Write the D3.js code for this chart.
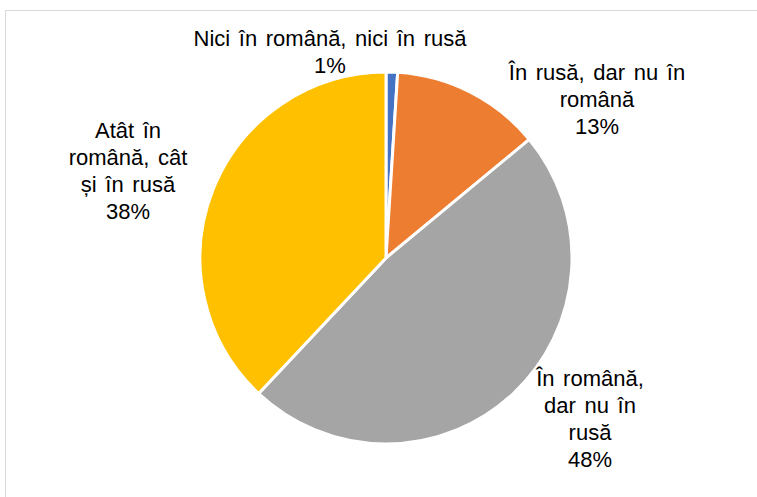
<!DOCTYPE html>
<html>
<head>
    <script src="https://d3js.org/d3.v7.min.js"></script>
    <style>
        body { margin: 0; background: #fff; }
        svg { display: block; }
    </style>
</head>
<body>
    <svg width="757" height="497" id="chart"></svg>
    <script>
        // Data
        const categories = [
            "Nici în română, nici în rusă",
            "În rusă, dar nu în română",
            "În română, dar nu în rusă",
            "Atât în română, cât și în rusă"
        ];
        const values = [1, 13, 48, 38];
        const colors = ["#4472C4", "#ED7D31", "#A5A5A5", "#FFC000"];
        // label lines as wrapped in the chart
        const labelLines = [
            ["Nici în română, nici în rusă", "1%"],
            ["În rusă, dar nu în", "română", "13%"],
            ["În română,", "dar nu în", "rusă", "48%"],
            ["Atât în", "română, cât", "și în rusă", "38%"]
        ];
        const labelPos = [[330, 38], [597, 72], [590, 378], [128, 130]];

        const svg = d3.select("#chart");

        // chart frame
        svg.append("rect")
            .attr("x", 5.5).attr("y", 10.5)
            .attr("width", 800).attr("height", 600)
            .attr("fill", "none")
            .attr("stroke", "#d9d9d9")
            .attr("stroke-width", 1);

        const cx = 386, cy = 258, radius = 186;

        const pie = d3.pie().sort(null).value(d => d);
        const arc = d3.arc().innerRadius(0).outerRadius(radius);

        const g = svg.append("g").attr("transform", `translate(${cx},${cy})`);
        g.selectAll("path")
            .data(pie(values))
            .enter().append("path")
            .attr("d", arc)
            .attr("fill", (d, i) => colors[i])
            .attr("stroke", "#fff")
            .attr("stroke-width", 3)
            .attr("stroke-linejoin", "round");

        // labels
        const lineH = 27;
        const labels = svg.append("g")
            .attr("font-family", "Liberation Sans, Arial, sans-serif")
            .attr("font-size", "22px")
            .attr("word-spacing", "2.5px")
            .attr("fill", "#000")
            .attr("text-anchor", "middle");
        labelLines.forEach((lines, i) => {
            const t = labels.append("text")
                .attr("x", labelPos[i][0])
                .attr("y", labelPos[i][1]);
            lines.forEach((ln, j) => {
                t.append("tspan")
                    .attr("x", labelPos[i][0])
                    .attr("dy", j === 0 ? "0.35em" : lineH)
                    .text(ln);
            });
        });
    </script>
</body>
</html>
